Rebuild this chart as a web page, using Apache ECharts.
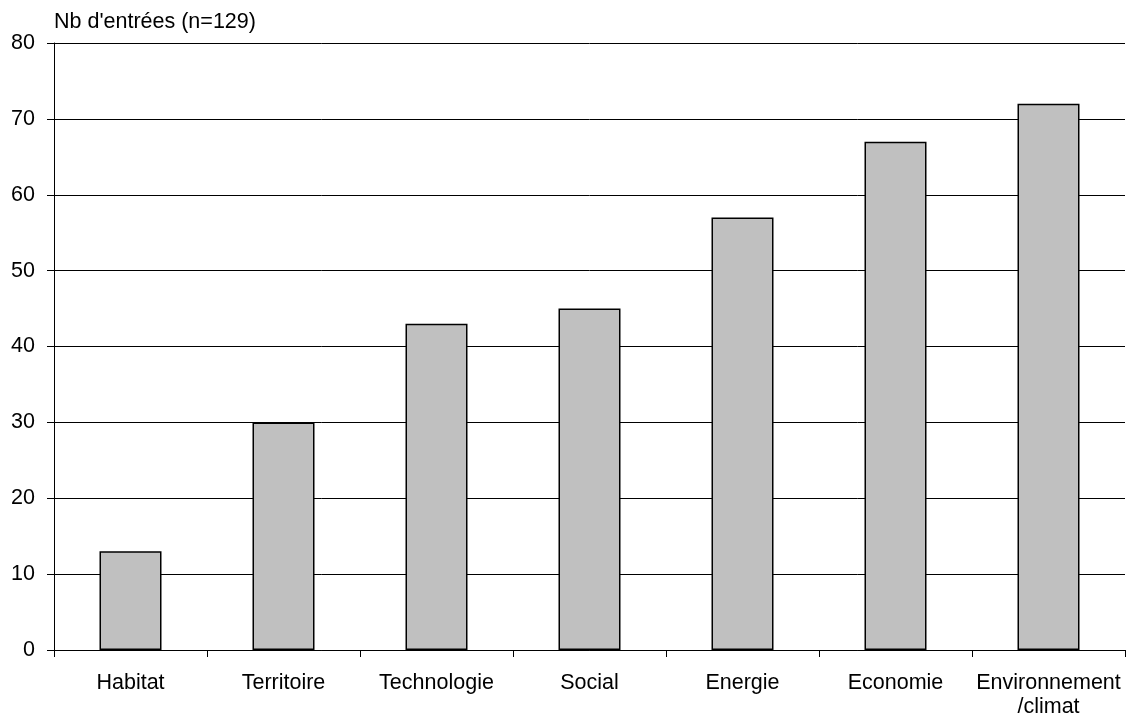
<!DOCTYPE html>
<html>
<head>
<meta charset="utf-8">
<script src="https://cdn.jsdelivr.net/npm/echarts@6/dist/echarts.min.js"></script>
<style>
  html, body { margin: 0; padding: 0; background: #fff; }
  #chart { width: 1129px; height: 720px; }
</style>
</head>
<body>
<div id="chart"></div>
<script>
// Number of entries per theme
const categories = ['Habitat', 'Territoire', 'Technologie', 'Social', 'Energie', 'Economie', 'Environnement\n/climat'];
const entries = [13, 30, 43, 45, 57, 67, 72];
const yTicks = [0, 10, 20, 30, 40, 50, 60, 70, 80];

const font = 'Arial, "Liberation Sans", sans-serif';
const chart = echarts.init(document.getElementById('chart'));

chart.setOption({
  animation: false,
  backgroundColor: '#ffffff',
  title: {
    text: "Nb d'entrées (n=129)",
    left: 49,
    top: 6,
    textStyle: { fontFamily: font, fontSize: 21.5, fontWeight: 'normal', color: '#000' }
  },
  grid: { left: 54, right: 4, top: 43, bottom: 70, containLabel: false },
  xAxis: {
    type: 'category',
    data: categories,
    boundaryGap: true,
    axisLine: { show: true, lineStyle: { color: '#000', width: 1 } },
    axisTick: { show: true, alignWithLabel: false, length: 7, inside: false, lineStyle: { color: '#000' } },
    axisLabel: {
      interval: 0,
      margin: 21,
      fontFamily: font,
      fontSize: 21.5,
      color: '#000',
      lineHeight: 24
    },
    splitLine: { show: false }
  },
  yAxis: {
    type: 'value',
    min: yTicks[0],
    max: yTicks[yTicks.length - 1],
    interval: 10,
    axisLine: { show: true, lineStyle: { color: '#000', width: 1 } },
    axisTick: { show: true, length: 7, lineStyle: { color: '#000' } },
    axisLabel: { margin: 19, fontFamily: font, fontSize: 21.5, color: '#000' },
    splitLine: { show: true, lineStyle: { color: '#000', width: 1 } }
  },
  series: [{
    type: 'bar',
    data: entries,
    barWidth: 62,
    itemStyle: { color: '#c0c0c0', borderColor: '#000', borderWidth: 1.5 }
  }]
});
</script>
</body>
</html>
